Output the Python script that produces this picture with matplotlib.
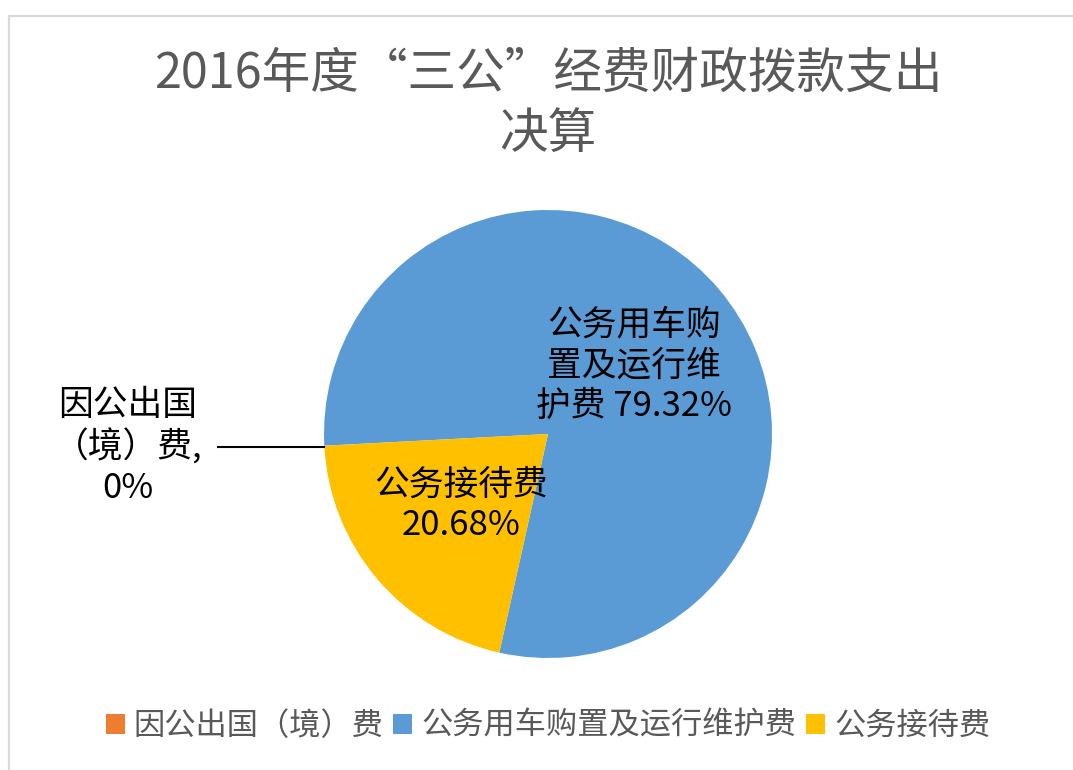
import matplotlib.pyplot as plt
from matplotlib.patches import Rectangle

plt.rcParams['font.family'] = ['Noto Sans CJK SC', 'DejaVu Sans']

categories = ['因公出国（境）费', '公务用车购置及运行维护费', '公务接待费']
shares = [0.0, 79.32, 20.68]
colors = ['#ED7D31', '#5B9BD5', '#FFC000']
title = '2016年度“三公”经费财政拨款支出\n决算'

W, H = 1073, 770
fig = plt.figure(figsize=(W / 100, H / 100), dpi=100)

# light grey chart frame
fig.patches.append(Rectangle((9 / W, -0.1), 1.2, 1 - 16 / H + 0.1, transform=fig.transFigure,
                             fill=False, edgecolor='#d9d9d9', linewidth=1.6))

cx, cy, r = 548, 434, 224
ax = fig.add_axes([(cx - r) / W, (H - cy - r) / H, 2 * r / W, 2 * r / H])
wedges, _ = ax.pie(shares, colors=colors, startangle=183, counterclock=False, radius=1,
                   wedgeprops=dict(linewidth=0))
ax.set_xlim(-1, 1)
ax.set_ylim(-1, 1)
ax.set_aspect('auto')
ax.axis('off')

fig.text(548 / W, 1 - 105 / H, title, ha='center', va='center', fontsize=35,
         color='#595959', linespacing=1.3)

# data labels
ax.text(0.385, 0.305, '公务用车购\n置及运行维\n护费 79.32%', ha='center', va='center',
        fontsize=25, color='black', linespacing=1.2)
ax.text(-0.39, -0.32, '公务接待费\n20.68%', ha='center', va='center',
        fontsize=25, color='black', linespacing=1.2)
fig.text(128 / W, 1 - 447 / H, '因公出国\n（境）费,\n0%', ha='center', va='center',
         fontsize=25, color='black', linespacing=1.2)
fig.add_artist(plt.Line2D([218 / W, 324 / W], [1 - 447 / H, 1 - 447 / H],
                          color='black', linewidth=1.5))

fig.legend(wedges, categories, loc='center', bbox_to_anchor=(548 / W, 1 - 726 / H),
           ncol=3, frameon=False, fontsize=22.5, labelcolor='#595959',
           handlelength=0.6, handleheight=0.6, handletextpad=0.3, columnspacing=0.3)

fig.savefig('out.png', dpi=100)
